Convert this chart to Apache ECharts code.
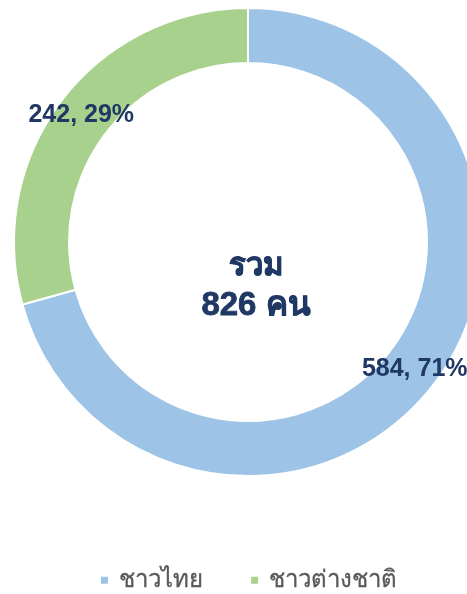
<!DOCTYPE html>
<html>
<head>
<meta charset="utf-8">
<script src="https://cdn.jsdelivr.net/npm/echarts@6/dist/echarts.min.js"></script>
<style>
  html, body { margin: 0; padding: 0; background: #fff; }
  #chart { width: 467px; height: 594px; }
</style>
</head>
<body>
<div id="chart"></div>
<script>
// Visitor breakdown: Thai vs. foreign
const categories = ['ชาวไทย', 'ชาวต่างชาติ'];
const values = [584, 242];
const colors = ['#9DC3E6', '#A9D18E'];

const total = values.reduce((a, b) => a + b, 0);
const labelFont = '"Liberation Sans", "Noto Sans", sans-serif';
const navy = '#1F3864';

const chart = echarts.init(document.getElementById('chart'), null, { renderer: 'canvas' });

chart.setOption({
  animation: false,
  title: {
    text: '{a|รวม}\n{b|' + total + ' คน}',
    left: 251,
    top: 281,
    textAlign: 'center',
    textVerticalAlign: 'middle',
    textStyle: {
      rich: {
        a: { fontSize: 31, fontWeight: 'bold', color: navy, lineHeight: 39, fontFamily: labelFont,
             textBorderColor: navy, textBorderWidth: 0.8 },
        b: { fontSize: 33, fontWeight: 'bold', color: navy, lineHeight: 39, fontFamily: labelFont,
             textBorderColor: navy, textBorderWidth: 0.8 }
      }
    }
  },
  legend: {
    top: 568,
    left: 99,
    padding: 0,
    itemWidth: 9,
    itemHeight: 9,
    itemGap: 46,
    icon: 'rect',
    textStyle: { fontSize: 24, color: '#595959', fontFamily: labelFont,
                 padding: [0, 0, 0, 5],
                 textBorderColor: '#595959', textBorderWidth: 0.3 },
    data: categories
  },
  series: [{
    type: 'pie',
    center: [248, 242],
    radius: [179, 234],
    startAngle: 90,
    clockwise: true,
    avoidLabelOverlap: false,
    itemStyle: { borderColor: '#fff', borderWidth: 2 },
    label: {
      show: true,
      position: 'inside',
      formatter: p => p.value + ', ' + Math.round(p.percent) + '%',
      fontSize: 25,
      fontWeight: 'bold',
      color: navy,
      fontFamily: labelFont
    },
    labelLine: { show: false },
    emphasis: { disabled: true },
    data: categories.map((name, i) => ({
      name,
      value: values[i],
      itemStyle: { color: colors[i] }
    }))
  }]
});
</script>
</body>
</html>
